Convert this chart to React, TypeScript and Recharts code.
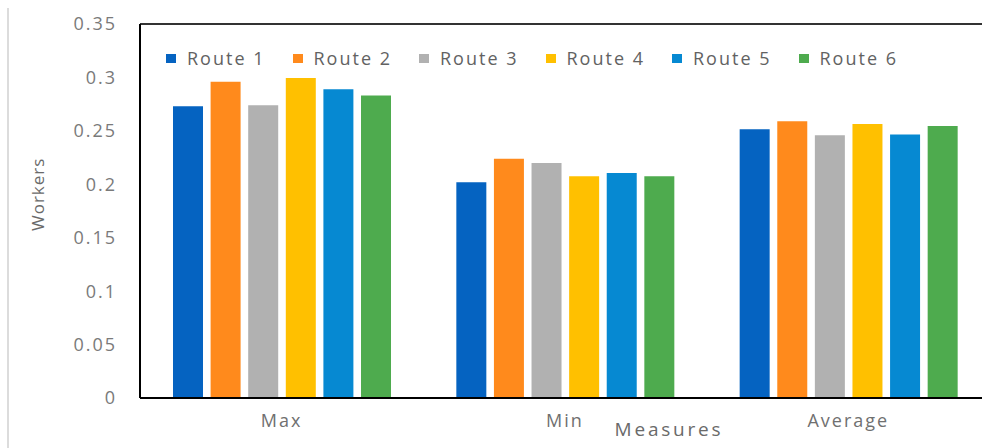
import { BarChart, Bar, XAxis, YAxis, Legend, ReferenceLine } from 'recharts'

const categories = ['Max', 'Min', 'Average']
const seriesNames = ['Route 1', 'Route 2', 'Route 3', 'Route 4', 'Route 5', 'Route 6']
const route1 = [0.273, 0.202, 0.2515]
const route2 = [0.296, 0.224, 0.259]
const route3 = [0.274, 0.22, 0.246]
const route4 = [0.2995, 0.2075, 0.2565]
const route5 = [0.289, 0.2105, 0.2465]
const route6 = [0.283, 0.2075, 0.2545]
const yTicks = [0, 0.05, 0.1, 0.15, 0.2, 0.25, 0.3, 0.35]
const yTickLabels = ['0', '0.05', '0.1', '0.15', '0.2', '0.25', '0.3', '0.35']

const colors = ['#0563C1', '#FF8A1C', '#B1B1B1', '#FFC000', '#0689D2', '#4EAB4E']
const seriesValues = [route1, route2, route3, route4, route5, route6]

const data = categories.map((name, i) => {
  const row: Record<string, string | number> = { name }
  seriesNames.forEach((s, j) => {
    row[s] = seriesValues[j][i]
  })
  return row
})

const FONT = '"Open Sans", sans-serif'

function RouteLegend() {
  return (
    <div style={{ display: 'flex', fontFamily: FONT }}>
      {seriesNames.map((s, i) => (
        <div
          key={s}
          style={{ display: 'flex', alignItems: 'center', width: 126.5 }}
        >
          <span
            style={{
              display: 'inline-block',
              width: 10,
              height: 9,
              background: colors[i],
              marginRight: 11,
            }}
          />
          <span style={{ fontSize: 18, letterSpacing: 2, color: '#626262' }}>{s}</span>
        </div>
      ))}
    </div>
  )
}

export default function App() {
  return (
    <div
      style={{
        position: 'fixed',
        left: 0,
        top: 0,
        width: 982,
        height: 448,
        overflow: 'hidden',
        background: '#fff',
      }}
    >
      <div
        style={{
          position: 'absolute',
          left: 7,
          top: 8,
          width: 0,
          height: 440,
          borderLeft: '2px solid #dcdcdc',
        }}
      />
      <BarChart
        width={1000}
        height={448}
        data={data}
        margin={{ top: 24, right: 10, left: 0, bottom: 0 }}
        barSize={30}
        barGap={7.6}
      >
        <XAxis
          dataKey="name"
          height={50}
          axisLine={{ stroke: '#000', strokeWidth: 2 }}
          tickLine={false}
          tickSize={0}
          tickMargin={16}
          tick={{ fill: '#707070', fontSize: 18, fontFamily: FONT, letterSpacing: 2 }}
          label={{
            value: 'Measures',
            position: 'insideBottom',
            offset: 12,
            dx: 104,
            fill: '#6a6a6a',
            fontSize: 19,
            fontFamily: FONT,
            letterSpacing: 2.8,
          }}
        />
        <YAxis
          width={140}
          domain={[0, 0.35]}
          ticks={yTicks}
          interval={0}
          axisLine={{ stroke: '#000', strokeWidth: 2 }}
          tickLine={false}
          tickSize={0}
          tickMargin={23}
          tickFormatter={(v: number) => yTickLabels[yTicks.indexOf(v)] ?? String(v)}
          tick={{ fill: '#7a7a7a', fontSize: 18, fontFamily: FONT, letterSpacing: 2 }}
          label={{
            value: 'Workers',
            angle: -90,
            position: 'insideLeft',
            offset: 38,
            dy: 20,
            fill: '#6a6a6a',
            fontSize: 17,
            fontFamily: FONT,
            letterSpacing: 1,
          }}
        />
        <ReferenceLine y={0.35} stroke="#333" strokeWidth={2} ifOverflow="visible" />
        <Legend
          verticalAlign="middle"
          layout="horizontal"
          content={<RouteLegend />}
          wrapperStyle={{ position: 'absolute', top: 46, left: 166, width: 800 }}
        />
        {seriesNames.map((s, i) => (
          <Bar key={s} dataKey={s} fill={colors[i]} isAnimationActive={false} />
        ))}
      </BarChart>
    </div>
  )
}
